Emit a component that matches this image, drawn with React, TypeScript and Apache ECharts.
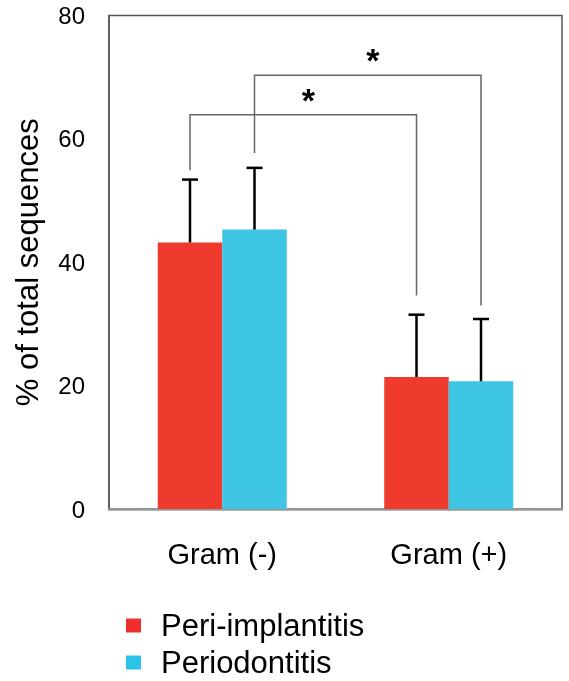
import React, { useEffect, useRef } from "react";
import * as echarts from "echarts";

const categories = ["Gram (-)", "Gram (+)"];
const seriesNames = ["Peri-implantitis", "Periodontitis"];
const periImplantitis = [43.2, 21.4];
const periodontitis = [45.3, 20.7];
const periImplantitisErr = [10.2, 10.1];
const periodontitisErr = [10.0, 10.1];
const yTicks = { min: 0, max: 80, interval: 20 };
// brackets: [startCat, startSide, startY, endCat, endSide, endY, topY]
const brackets = [
  [0, -1, 54.9, 1, -1, 34.6, 63.9],
  [0, 1, 57.7, 1, 1, 33.0, 70.3],
];
const sigLabels = ["*", "*"];

const RED = "#EE3B2D";
const BLUE = "#3EC5E4";
const FONT = "'Liberation Sans', Arial, Helvetica, sans-serif";
const BAR_W = 64.5;

export default function App() {
  const ref = useRef<HTMLDivElement>(null);
  useEffect(() => {
    document.body.style.margin = "0";
    const chart = echarts.init(ref.current!, null, { renderer: "svg" });
    const errData: number[][] = [];
    periImplantitis.forEach((v, i) => errData.push([i, v, periImplantitisErr[i], -1]));
    periodontitis.forEach((v, i) => errData.push([i, v, periodontitisErr[i], 1]));

    chart.setOption({
      animation: false,
      textStyle: { fontFamily: FONT },
      grid: {
        left: 109,
        top: 15.5,
        right: 7,
        bottom: 172,
        show: true,
        borderColor: "#555",
        borderWidth: 1.5,
      },
      legend: {
        orient: "vertical",
        left: 126,
        top: 610,
        padding: 0,
        icon: "rect",
        itemWidth: 15,
        itemHeight: 14,
        itemGap: 6,
        data: [
          { name: seriesNames[0], itemStyle: { color: "#EE2D2D" } },
          { name: seriesNames[1], itemStyle: { color: "#2CC3EA" } },
        ],
        textStyle: {
          fontFamily: FONT,
          fontSize: 31,
          lineHeight: 30,
          color: "#000",
          padding: [0, 0, 0, 15],
        },
      },
      xAxis: {
        type: "category",
        data: categories,
        axisLine: { show: true, lineStyle: { color: "#999", width: 2.5 } },
        axisTick: { show: false },
        axisLabel: { fontSize: 29, color: "#000", margin: 30, fontFamily: FONT },
        splitLine: { show: false },
      },
      yAxis: {
        type: "value",
        min: yTicks.min,
        max: yTicks.max,
        interval: yTicks.interval,
        axisLine: { show: true, lineStyle: { color: "#555", width: 1.5 } },
        axisTick: { show: false },
        splitLine: { show: false },
        axisLabel: { fontSize: 24, color: "#000", margin: 24, fontFamily: FONT },
        name: "% of total sequences",
        nameLocation: "middle",
        nameGap: 66,
        nameTextStyle: { fontSize: 31, color: "#000", fontFamily: FONT },
      },
      series: [
        {
          name: seriesNames[0],
          type: "bar",
          data: periImplantitis,
          barWidth: BAR_W,
          barGap: "0%",
          itemStyle: { color: RED },
        },
        {
          name: seriesNames[1],
          type: "bar",
          data: periodontitis,
          barWidth: BAR_W,
          barGap: "0%",
          itemStyle: { color: BLUE },
        },
        {
          type: "custom",
          name: "err",
          data: errData,
          encode: { x: 0, y: 1 },
          z: 5,
          renderItem: (params: any, api: any) => {
            const cat = api.value(0);
            const v = api.value(1);
            const e = api.value(2);
            const side = api.value(3);
            const base = api.coord([cat, v]);
            const top = api.coord([cat, v + e]);
            const x = base[0] + (side * BAR_W) / 2;
            return {
              type: "group",
              children: [
                {
                  type: "line",
                  shape: { x1: x, y1: base[1], x2: x, y2: top[1] },
                  style: { stroke: "#000", lineWidth: 2.5 },
                },
                {
                  type: "line",
                  shape: { x1: x - 8, y1: top[1], x2: x + 8, y2: top[1] },
                  style: { stroke: "#000", lineWidth: 2.5 },
                },
              ],
            };
          },
        },
        {
          type: "custom",
          name: "brackets",
          data: brackets,
          encode: { x: 0, y: 6 },
          z: 6,
          clip: false,
          renderItem: (params: any, api: any) => {
            const p1 = api.coord([api.value(0), api.value(2)]);
            const p2 = api.coord([api.value(3), api.value(5)]);
            const t = api.coord([api.value(0), api.value(6)]);
            const x1 = p1[0] + (api.value(1) * BAR_W) / 2;
            const x2 = p2[0] + (api.value(4) * BAR_W) / 2;
            const yTop = t[1];
            return {
              type: "group",
              children: [
                {
                  type: "polyline",
                  shape: {
                    points: [
                      [x1, p1[1]],
                      [x1, yTop],
                      [x2, yTop],
                      [x2, p2[1]],
                    ],
                  },
                  style: { stroke: "#666", lineWidth: 1.5, fill: null },
                },
                {
                  type: "text",
                  x: (x1 + x2) / 2 + 5,
                  y: yTop - 15,
                  style: {
                    text: sigLabels[params.dataIndex],
                    fontSize: 34,
                    fontWeight: "bold",
                    fontFamily: FONT,
                    fill: "#000",
                    align: "center",
                    verticalAlign: "middle",
                  },
                },
              ],
            };
          },
        },
      ],
    });
    return () => chart.dispose();
  }, []);
  return (
    <div
      ref={ref}
      style={{ position: "fixed", left: 0, top: 0, width: 569, height: 681 }}
    />
  );
}
